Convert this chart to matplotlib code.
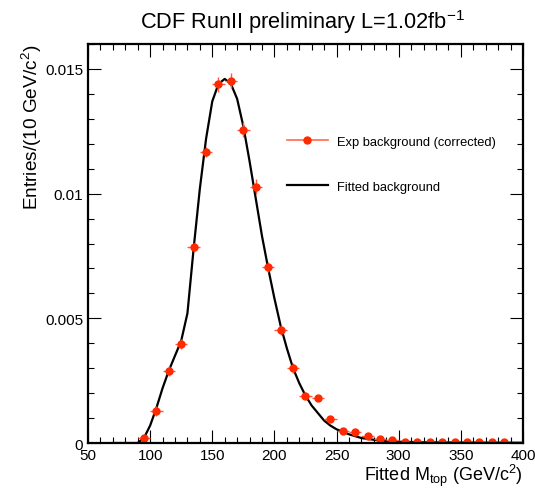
import numpy as np
import matplotlib
matplotlib.use("Agg")
import matplotlib.pyplot as plt
from matplotlib.lines import Line2D
from matplotlib.ticker import MultipleLocator, FuncFormatter

plt.rcParams['font.family'] = ['Liberation Sans', 'DejaVu Sans']
plt.rcParams['mathtext.fontset'] = 'custom'
plt.rcParams['mathtext.rm'] = 'Liberation Sans'
plt.rcParams['mathtext.it'] = 'Liberation Sans'

# measured background points (bin centres, 10 GeV bins)
mass = [95, 105, 115, 125, 135, 145, 155, 165, 175, 185, 195, 205, 215, 225,
        235, 245, 255, 265, 275, 285, 295, 305, 315, 325, 335, 345, 355, 365,
        375, 385]
entries = [0.00019, 0.00127, 0.00287, 0.00397, 0.00784, 0.01165, 0.01439,
           0.01453, 0.01256, 0.01028, 0.00704, 0.00452, 0.0030, 0.0019,
           0.0018, 0.00096, 0.0005, 0.00043, 0.00027, 0.00016, 0.00012,
           0.00005, 0.00005, 0.00003, 0.00004, 0.00003, 0.00003, 0.00003,
           0.00003, 0.00003]
entry_err = [0.0001, 0.0002, 0.0002, 0.0002, 0.0002, 0.0002, 0.0003, 0.0003,
             0.0003, 0.0003, 0.0002, 0.0002, 0.0002, 0.0001, 0.0001, 0.0001,
             0.0001, 0.0001, 0.00005, 0.00005, 0.00005, 0.00003, 0.00003,
             0.00003, 0.00003, 0.00003, 0.00003, 0.00003, 0.00003, 0.00003]

# fitted background curve
fit_mass = [70, 80, 90, 95, 100, 105, 110, 115, 120, 125, 130, 135, 140, 145,
            150, 155, 160, 165, 170, 175, 180, 185, 190, 195, 200, 205, 210,
            215, 220, 225, 230, 235, 240, 245, 250, 260, 270, 280, 290, 300,
            320, 350, 400]
fit_val = [0.0, 0.0, 0.0, 0.0002, 0.0007, 0.0014, 0.0022, 0.0029, 0.0035,
           0.0041, 0.0052, 0.0078, 0.0102, 0.0122, 0.0137, 0.0144, 0.0146,
           0.0144, 0.0138, 0.0127, 0.0113, 0.0098, 0.0083, 0.0070, 0.0058,
           0.0047, 0.0038, 0.0030, 0.0024, 0.0019, 0.0015, 0.0012, 0.0009,
           0.0007, 0.00055, 0.00035, 0.0002, 0.00013, 0.00008, 0.00005,
           0.00003, 0.00002, 0.00001]

fig = plt.figure(figsize=(5.35, 4.89), dpi=100)
ax = fig.add_axes([0.1645, 0.092, 0.813, 0.816])

ax.plot(fit_mass, fit_val, color='black', lw=1.6)
ax.errorbar(mass, entries, xerr=5, yerr=entry_err, fmt='o', color='#ff2a00',
            ms=5, ecolor='#ff5a40', elinewidth=1.0, capsize=0)

ax.set_xlim(50, 400)
ax.set_ylim(0, 0.016)
ax.xaxis.set_major_locator(MultipleLocator(50))
ax.xaxis.set_minor_locator(MultipleLocator(10))
ax.yaxis.set_major_locator(MultipleLocator(0.005))
ax.yaxis.set_minor_locator(MultipleLocator(0.001))
ax.yaxis.set_major_formatter(FuncFormatter(lambda v, p: '0' if v == 0 else ('%g' % v)))
ax.tick_params(which='both', direction='in', top=True, right=True, labelsize=11)
ax.tick_params(which='major', length=9.5, width=0.8)
ax.tick_params(which='minor', length=4.5, width=0.8)
for s in ax.spines.values():
    s.set_linewidth(1.6)

ax.set_ylabel('Entries/(10 GeV/c$^2$)', fontsize=13.7, loc='top', labelpad=1)
ax.set_xlabel('Fitted M$_{top}$ (GeV/c$^2$)', fontsize=13, loc='right', labelpad=0)
fig.text(0.565, 0.955, 'CDF RunII preliminary L=1.02fb$^{-1}$', fontsize=15.7,
         ha='center', va='center')

handles = [Line2D([], [], color='#ff6a50', lw=1.2, marker='o', ms=5,
                  mfc='#ff2a00', mec='#ff2a00'),
           Line2D([], [], color='black', lw=1.6)]
labels = ['Exp background (corrected)', 'Fitted background']
ax.legend(handles, labels, loc='upper left', bbox_to_anchor=(0.457, 0.77),
          frameon=False, fontsize=9.3, borderpad=0, borderaxespad=0,
          labelspacing=2.55, handlelength=3.2, handletextpad=0.7)

fig.savefig('out.png', dpi=100)
